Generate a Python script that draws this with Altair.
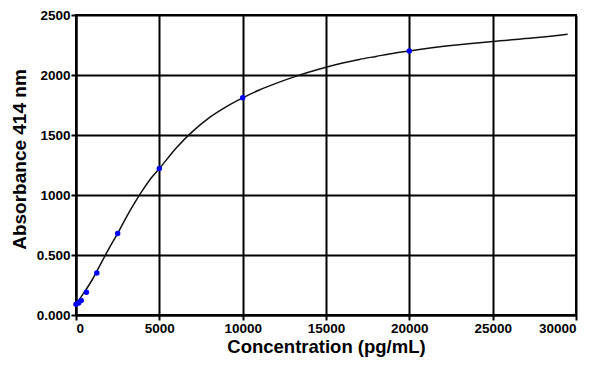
import altair as alt
import pandas as pd

# Standard points
std_conc = [0, 156, 312, 625, 1250, 2500, 5000, 10000, 20000]
std_abs = [0.09, 0.10, 0.12, 0.19, 0.35, 0.68, 1.22, 1.81, 2.20]

# Fitted curve, read at sample positions
curve_conc = [0, 500, 1000, 1500, 2000, 2500, 3000, 3500, 4000, 4500, 5000, 6000, 7000, 8000,
              9000, 10000, 11000, 12000, 13000, 14000, 15000, 16000, 17000, 18000, 19000, 20000,
              22500, 25000, 27500, 29500]
curve_abs = [0.09, 0.19, 0.30, 0.43, 0.56, 0.68, 0.81, 0.93, 1.04, 1.14, 1.22, 1.39, 1.53, 1.645,
             1.735, 1.81, 1.875, 1.93, 1.98, 2.025, 2.065, 2.10, 2.13, 2.155, 2.18, 2.20,
             2.245, 2.28, 2.31, 2.34]

x_ticks = [0, 5000, 10000, 15000, 20000, 25000, 30000]
y_ticks = [0, 0.5, 1.0, 1.5, 2.0, 2.5]

pts = pd.DataFrame({"conc": std_conc, "abs": std_abs})
crv = pd.DataFrame({"conc": curve_conc, "abs": curve_abs})

FONT = "Liberation Sans"

xenc = alt.X("conc:Q", scale=alt.Scale(domain=[0, 30000], nice=False),
             axis=alt.Axis(values=x_ticks, title="Concentration (pg/mL)", format="d",
                           titleFontSize=18.5))
yenc = alt.Y("abs:Q", scale=alt.Scale(domain=[0, 2.5], nice=False),
             axis=alt.Axis(values=y_ticks, title="Absorbance 414 nm", titleFontSize=19,
                           titleY=144,
                           labelExpr="datum.value < 1 ? format(datum.value, '.3f') : format(datum.value*1000, 'd')"))

line = alt.Chart(crv).mark_line(color="#111111", strokeWidth=1.5, interpolate="monotone").encode(x=xenc, y=yenc)
dots = alt.Chart(pts).mark_circle(color="#0000ff", size=30, opacity=1).encode(x="conc:Q", y="abs:Q")

chart = alt.layer(line, dots).properties(
    width=500, height=300,
    autosize=alt.AutoSizeParams(type="none"),
    padding={"left": 68, "top": 7, "right": 10, "bottom": 46},
).configure_view(
    stroke="black", strokeWidth=2
).configure_axis(
    grid=True, gridColor="black", gridWidth=2, gridOpacity=1,
    domainColor="black", domainWidth=2,
    tickColor="black", tickWidth=2, tickSize=5,
    labelFont=FONT, labelFontSize=13.5, labelFontWeight="bold", labelColor="black",
    titleFont=FONT, titleFontWeight="bold", titleColor="black",
    labelPadding=1,
).configure_axisX(
    titlePadding=3
).configure_axisY(
    titlePadding=7
)

chart.save("out.html", embed_options={"renderer": "svg", "actions": False})
